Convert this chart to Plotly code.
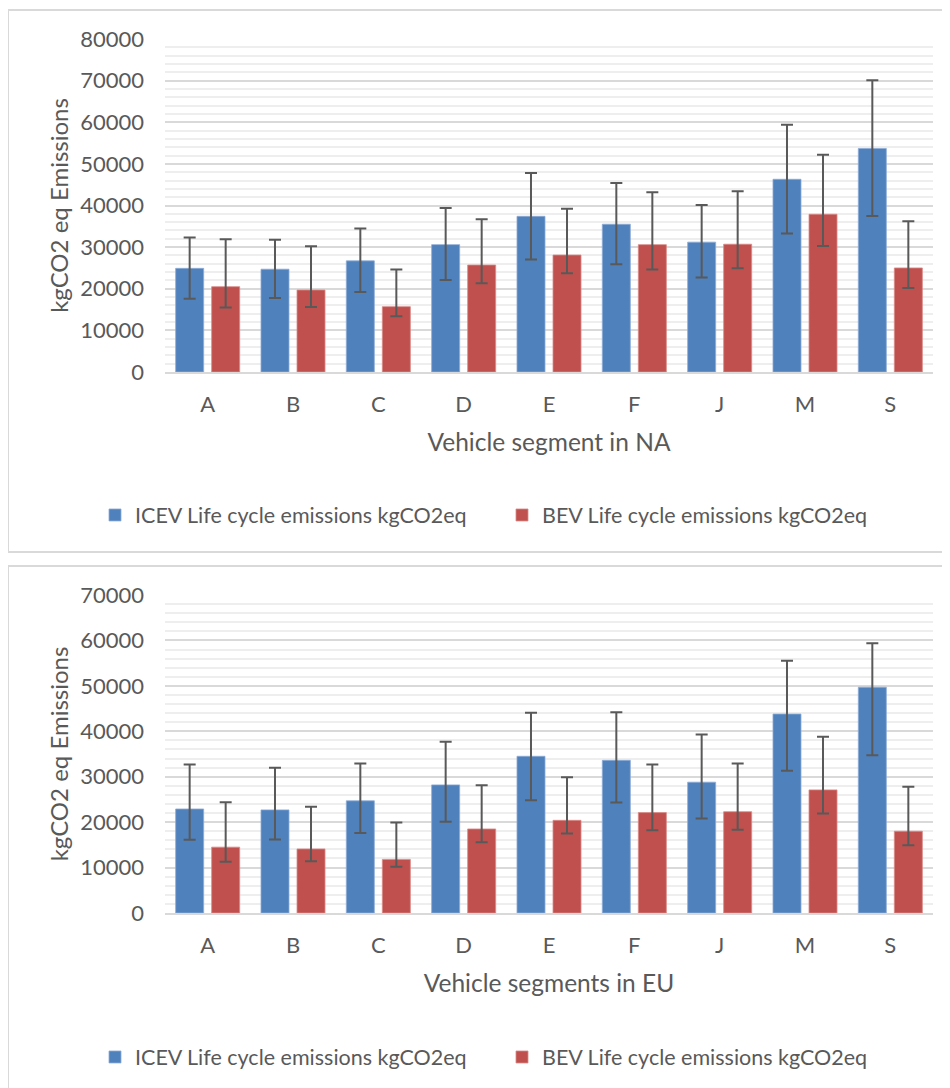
import plotly.graph_objects as go

categories = ["A", "B", "C", "D", "E", "F", "J", "M", "S"]

# North America
na_icev = [24900, 24700, 26700, 30600, 37400, 35500, 31200, 46300, 53700]
na_icev_hi = [32300, 31800, 34500, 39400, 47800, 45400, 40100, 59400, 70100]
na_icev_lo = [17600, 17800, 19200, 22100, 27000, 25900, 22700, 33300, 37500]
na_bev = [20500, 19700, 15700, 25700, 28100, 30600, 30700, 37900, 25000]
na_bev_hi = [31900, 30200, 24600, 36700, 39200, 43200, 43400, 52200, 36200]
na_bev_lo = [15500, 15600, 13400, 21300, 23700, 24600, 24900, 30300, 20200]

# Europe
eu_icev = [22900, 22700, 24700, 28200, 34500, 33600, 28800, 43800, 49700]
eu_icev_hi = [32700, 32000, 32900, 37700, 44100, 44200, 39300, 55500, 59400]
eu_icev_lo = [16100, 16200, 17600, 20100, 24800, 24300, 20800, 31300, 34700]
eu_bev = [14500, 14100, 11800, 18500, 20400, 22100, 22300, 27100, 18000]
eu_bev_hi = [24400, 23400, 19900, 28100, 29900, 32700, 32900, 38800, 27800]
eu_bev_lo = [11300, 11400, 10200, 15600, 17500, 18200, 18300, 21900, 14900]

series_names = ["ICEV Life cycle emissions kgCO2eq", "BEV Life cycle emissions kgCO2eq"]
colors = ["#4F81BD", "#C0504D"]

W, H = 950, 1088
OFF = 8  # page body margin
FONT = "Lato"
TXT = "#595959"


def px(x):
    return (x - OFF) / W


def py(y):
    return 1 - (y - OFF) / H


def err(vals, hi, lo):
    return dict(type="data", symmetric=False,
                array=[h - v for v, h in zip(vals, hi)],
                arrayminus=[v - l for v, l in zip(vals, lo)],
                color="#595959", thickness=2, width=6)


fig = go.Figure()

panels = [
    ("x", "y", "legend", na_icev, na_icev_hi, na_icev_lo, na_bev, na_bev_hi, na_bev_lo),
    ("x2", "y2", "legend2", eu_icev, eu_icev_hi, eu_icev_lo, eu_bev, eu_bev_hi, eu_bev_lo),
]
for xa, ya, lg, iv, ih, il, bv, bh, bl in panels:
    fig.add_trace(go.Bar(x=categories, y=iv, name=series_names[0], xaxis=xa, yaxis=ya,
                         legend=lg, marker=dict(color=colors[0], line=dict(color="#8EACD6", width=0.8)),
                         error_y=err(iv, ih, il)))
    fig.add_trace(go.Bar(x=categories, y=bv, name=series_names[1], xaxis=xa, yaxis=ya,
                         legend=lg, marker=dict(color=colors[1], line=dict(color="#D88A88", width=0.8)),
                         error_y=err(bv, bh, bl)))

xdom = [px(165), px(933)]
common_x = dict(domain=xdom, showgrid=False, showline=True, linecolor="#D9D9D9", linewidth=2,
                tickfont=dict(family=FONT, size=22, color=TXT), ticks="outside", ticklen=12,
                tickcolor="rgba(0,0,0,0)", zeroline=False, automargin=False)
common_y = dict(showgrid=True, gridcolor="#D9D9D9", gridwidth=1.5, zeroline=False, showline=False,
                tickfont=dict(family=FONT, size=22, color=TXT), ticklabelstandoff=20,
                tickformat="d", automargin=False,
                minor=dict(dtick=2000, showgrid=True, gridcolor="#EEEEEE", gridwidth=1.5),
                title=dict(text="kgCO2 eq Emissions", font=dict(family=FONT, size=24, color=TXT), standoff=4))

fig.update_layout(
    width=W, height=H, margin=dict(l=0, r=0, t=0, b=0, autoexpand=False),
    paper_bgcolor="white", plot_bgcolor="white",
    barmode="group", bargap=0.156, bargroupgap=0.222,
    font=dict(family=FONT, color=TXT),
    xaxis=dict(anchor="y", title=dict(text="Vehicle segment in NA",
                                      font=dict(family=FONT, size=24.5, color=TXT), standoff=17), **common_x),
    xaxis2=dict(anchor="y2", title=dict(text="Vehicle segments in EU",
                                        font=dict(family=FONT, size=24.5, color=TXT), standoff=17), **common_x),
    yaxis=dict(anchor="x", domain=[py(372), py(39)], range=[0, 80000], dtick=10000, **common_y),
    yaxis2=dict(anchor="x2", domain=[py(913), py(595)], range=[0, 70000], dtick=10000, **common_y),
    legend=dict(orientation="h", x=px(502), y=py(515), xanchor="center", yanchor="middle",
                font=dict(family=FONT, size=21.5, color=TXT), itemwidth=30, entrywidth=362,
                bgcolor="rgba(0,0,0,0)"),
    legend2=dict(orientation="h", x=px(502), y=py(1057), xanchor="center", yanchor="middle",
                 font=dict(family=FONT, size=21.5, color=TXT), itemwidth=30, entrywidth=362,
                 bgcolor="rgba(0,0,0,0)"),
    shapes=[
        dict(type="rect", xref="paper", yref="paper", x0=px(8), x1=1.02, y0=py(552), y1=py(10),
             line=dict(color="#D9D9D9", width=2), fillcolor="rgba(0,0,0,0)", layer="below"),
        dict(type="rect", xref="paper", yref="paper", x0=px(8), x1=1.02, y0=-0.02, y1=py(566),
             line=dict(color="#D9D9D9", width=2), fillcolor="rgba(0,0,0,0)", layer="below"),
    ],
)

fig.write_html("out.html")
